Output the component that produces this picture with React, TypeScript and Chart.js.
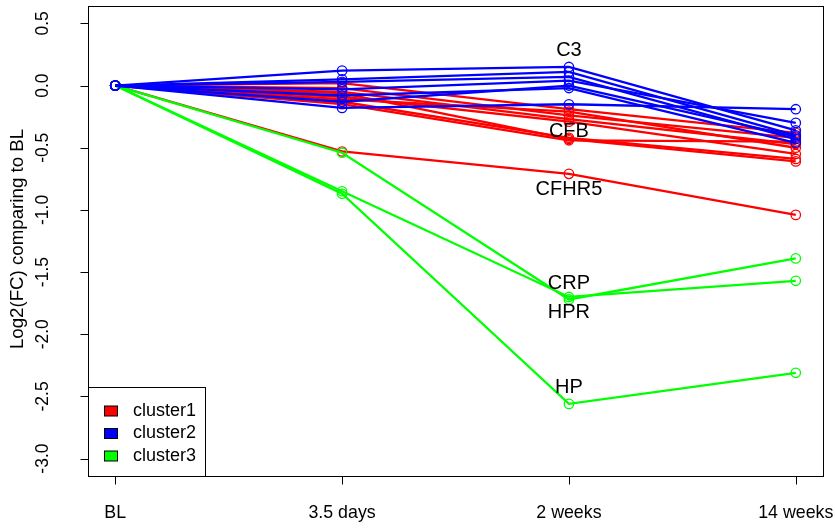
import React, { useEffect, useRef } from 'react';
import { Chart, registerables } from 'chart.js';
Chart.register(...registerables);

const timepoints = ['BL', '3.5 days', '2 weeks', '14 weeks'];
const yTickValues = [-3, -2.5, -2, -1.5, -1, -0.5, 0, 0.5];
const yTickLabels = ['-3.0', '-2.5', '-2.0', '-1.5', '-1.0', '-0.5', '0.0', '0.5'];
const yTitle = 'Log2(FC) comparing to BL';

// cluster1 (red)
const cluster1Lines = [
  [0, 0.02, -0.19, -0.38],
  [0, -0.02, -0.24, -0.42],
  [0, -0.05, -0.27, -0.47],
  [0, -0.09, -0.29, -0.55],
  [0, -0.11, -0.21, -0.50],
  [0, -0.13, -0.42, -0.59],
  [0, -0.15, -0.44, -0.45],
  [0, -0.06, -0.43, -0.61],
  [0, -0.53, -0.71, -1.04],
];
// cluster2 (blue)
const cluster2Lines = [
  [0, 0.12, 0.15, -0.36],
  [0, 0.05, 0.11, -0.40],
  [0, 0.03, 0.07, -0.43],
  [0, -0.03, 0.04, -0.30],
  [0, -0.08, -0.02, -0.46],
  [0, -0.18, -0.15, -0.19],
  [0, -0.13, 0.0, -0.41],
];
// cluster3 (green)
const cluster3Lines = [
  [0, -0.54, -1.72, -1.39],
  [0, -0.85, -1.70, -1.57],
  [0, -0.87, -2.56, -2.31],
];

const clusterNames = ['cluster1', 'cluster2', 'cluster3'];
const clusterColors = ['#FF0000', '#0000FF', '#00FF00'];

const annotationNames = ['C3', 'CFB', 'CFHR5', 'CRP', 'HPR', 'HP'];
const annotationValues = [0.15, -0.24, -0.71, -1.72, -1.70, -2.56];
const annotationAbove = [true, false, false, true, false, true];

const FONT = '"Liberation Sans", Arial, sans-serif';

const rStylePlugin = {
  id: 'rStyle',
  afterDatasetsDraw(chart: any) {
    const ctx = chart.ctx as CanvasRenderingContext2D;
    const area = chart.chartArea;
    const xs = chart.scales.x;
    const ys = chart.scales.y;
    ctx.save();
    ctx.strokeStyle = '#000';
    ctx.fillStyle = '#000';
    ctx.lineWidth = 1;

    // annotations
    ctx.font = `20px ${FONT}`;
    ctx.textAlign = 'center';
    ctx.textBaseline = 'middle';
    annotationNames.forEach((n, i) => {
      const px = xs.getPixelForValue(2);
      const py = ys.getPixelForValue(annotationValues[i]) + (annotationAbove[i] ? -16 : 16);
      ctx.fillText(n, px, py);
    });

    // box
    ctx.strokeRect(Math.round(area.left) + 0.5, Math.round(area.top) + 0.5, Math.round(area.right - area.left), Math.round(area.bottom - area.top));

    // y axis
    const y0 = ys.getPixelForValue(yTickValues[0]);
    const y1 = ys.getPixelForValue(yTickValues[yTickValues.length - 1]);
    const ax = Math.round(area.left) + 0.5;
    ctx.beginPath();
    ctx.moveTo(ax, y0);
    ctx.lineTo(ax, y1);
    yTickValues.forEach((v) => {
      const py = Math.round(ys.getPixelForValue(v)) + 0.5;
      ctx.moveTo(ax, py);
      ctx.lineTo(ax - 8, py);
    });
    ctx.stroke();
    ctx.font = `17.5px ${FONT}`;
    yTickValues.forEach((v, i) => {
      const py = ys.getPixelForValue(v);
      ctx.save();
      ctx.translate(43, py);
      ctx.rotate(-Math.PI / 2);
      ctx.textAlign = 'center';
      ctx.textBaseline = 'middle';
      ctx.fillText(yTickLabels[i], 0, 0);
      ctx.restore();
    });
    ctx.save();
    ctx.font = `18.7px ${FONT}`;
    ctx.translate(18, 239);
    ctx.rotate(-Math.PI / 2);
    ctx.textAlign = 'center';
    ctx.textBaseline = 'middle';
    ctx.fillText(yTitle, 0, 0);
    ctx.restore();

    // x axis
    const by = Math.round(area.bottom) + 0.5;
    ctx.beginPath();
    ctx.moveTo(xs.getPixelForValue(0), by);
    ctx.lineTo(xs.getPixelForValue(timepoints.length - 1), by);
    timepoints.forEach((_, i) => {
      const px = Math.round(xs.getPixelForValue(i)) + 0.5;
      ctx.moveTo(px, by);
      ctx.lineTo(px, by + 8);
    });
    ctx.stroke();
    ctx.font = `17.8px ${FONT}`;
    ctx.textAlign = 'center';
    ctx.textBaseline = 'middle';
    timepoints.forEach((t, i) => {
      ctx.fillText(t, xs.getPixelForValue(i), 513);
    });

    // legend
    const lx = Math.round(area.left) + 0.5;
    const lTop = 387.5;
    const lw = 117;
    const lh = by - lTop;
    ctx.fillStyle = '#fff';
    ctx.fillRect(lx, lTop, lw, lh);
    ctx.strokeStyle = '#000';
    ctx.strokeRect(lx, lTop, lw, lh);
    const rowY = [411, 433.5, 456];
    clusterNames.forEach((n, i) => {
      ctx.fillStyle = clusterColors[i];
      ctx.fillRect(104.5, rowY[i] - 5, 13, 10);
      ctx.strokeStyle = '#000';
      ctx.strokeRect(104.5, rowY[i] - 5, 13, 10);
      ctx.fillStyle = '#000';
      ctx.textAlign = 'left';
      ctx.textBaseline = 'middle';
      ctx.font = `18px ${FONT}`;
      ctx.fillText(n, 133, rowY[i]);
    });
    ctx.restore();
  },
};

export default function App() {
  const ref = useRef<HTMLCanvasElement | null>(null);
  useEffect(() => {
    document.body.style.margin = '0';
    const groups = [cluster1Lines, cluster2Lines, cluster3Lines];
    const datasets: any[] = [];
    groups.forEach((lines, g) => {
      lines.forEach((vals, k) => {
        datasets.push({
          label: `${clusterNames[g]}-${k + 1}`,
          data: vals.map((v, i) => ({ x: i, y: v })),
          borderColor: clusterColors[g],
          backgroundColor: 'rgba(0,0,0,0)',
          borderWidth: 2.3,
          pointRadius: 4.7,
          pointBorderWidth: 1.3,
          pointBorderColor: clusterColors[g],
          pointBackgroundColor: 'rgba(0,0,0,0)',
          tension: 0,
          fill: false,
          order: g === 1 ? 0 : g === 2 ? 1 : 2,
        });
      });
    });
    const chart = new Chart(ref.current as HTMLCanvasElement, {
      type: 'line',
      data: { datasets },
      options: {
        animation: false,
        responsive: false,
        layout: { padding: { left: 88, right: 12, top: 6, bottom: 52 } },
        scales: {
          x: { type: 'linear', min: -0.12, max: 3.12, display: false },
          y: { type: 'linear', min: -3.14, max: 0.64, display: false },
        },
        plugins: { legend: { display: false }, tooltip: { enabled: false } },
      },
      plugins: [rStylePlugin],
    });
    return () => chart.destroy();
  }, []);
  return <canvas ref={ref} width={835} height={528} style={{ display: 'block' }} />;
}
